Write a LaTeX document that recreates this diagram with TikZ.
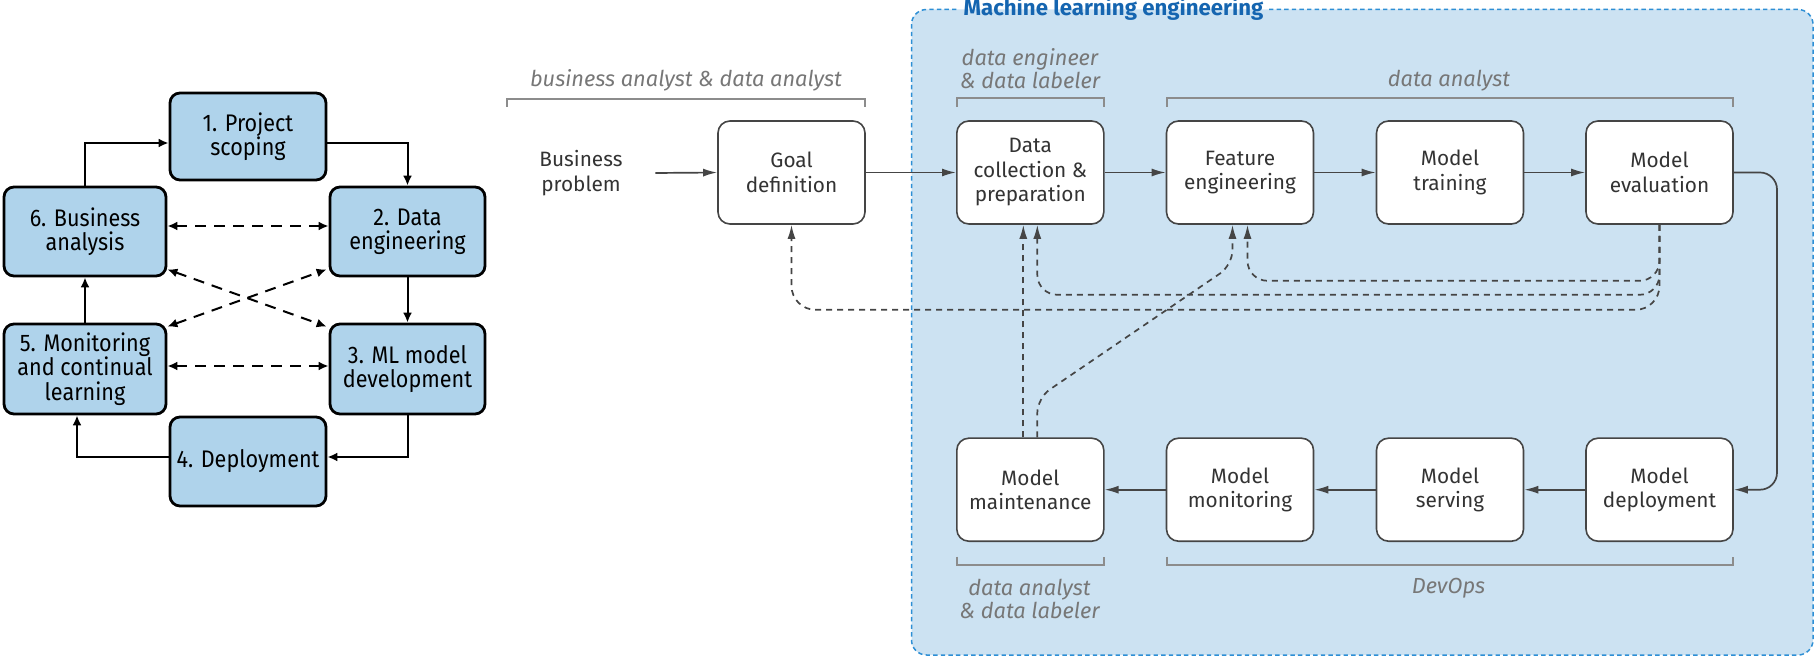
\documentclass[tikz,border=0pt]{standalone}
\usepackage{fontspec}
\setmainfont{Fira Sans}
\newfontfamily\condfont[FakeStretch=0.9]{Fira Sans}
\usetikzlibrary{arrows.meta,calc}
\definecolor{lbox}{HTML}{AFD3EB}
\definecolor{mlfill}{HTML}{CCE2F2}
\definecolor{mlborder}{HTML}{2D8FD5}
\definecolor{mltitle}{HTML}{1565B0}
\definecolor{rolegray}{HTML}{777777}
\definecolor{bracketgray}{HTML}{8C8C8C}
\definecolor{boxline}{HTML}{454545}
\definecolor{boxtext}{HTML}{333333}
\begin{document}
\begin{tikzpicture}[x=0.5pt,y=-0.5pt,
  lbox/.style={draw=black, line width=1.4pt, fill=lbox, rounded corners=5pt, align=center,
    font=\condfont\fontsize{12}{12.2}\selectfont, inner sep=0pt},
  larr/.style={draw=black, line width=1pt, -{Latex[length=5pt,width=4.5pt]}},
  ldash/.style={draw=black, line width=1pt, dash pattern=on 5.5pt off 4pt,
    {Latex[length=5pt,width=4.5pt]}-{Latex[length=5pt,width=4.5pt]}},
  rbox/.style={draw=boxline, line width=0.8pt, fill=white, rounded corners=6pt,
    minimum width=73.5pt, minimum height=51.5pt, align=center, text=boxtext,
    font=\fontsize{10.4}{12.25}\selectfont, inner sep=0pt},
  rarr/.style={draw=boxline, line width=0.85pt, -{Latex[length=7pt,width=4pt]}},
  rdash/.style={rarr, dash pattern=on 3pt off 2.5pt},
  role/.style={text=rolegray, font=\itshape\fontsize{10.9}{11.5}\selectfont, align=center},
  bracket/.style={draw=bracketgray, line width=1pt}
]
\useasboundingbox (0,0) rectangle (1815,657);

% ---------- left cycle ----------
\node[lbox, minimum width=78pt, minimum height=43.5pt] (b1) at (248,136.5) {1. Project\\scoping};
\node[lbox, minimum width=81pt, minimum height=44.5pt] (b6) at (85,231.5) {6. Business\\analysis};
\node[lbox, minimum width=77.5pt, minimum height=44.5pt] (b2) at (407.5,231.5) {2. Data\\engineering};
\node[lbox, minimum width=81pt, minimum height=45pt] (b5) at (85,369) {5. Monitoring\\and continual\\learning};
\node[lbox, minimum width=77.5pt, minimum height=45pt] (b3) at (407.5,369) {3. ML model\\development};
\node[lbox, minimum width=78pt, minimum height=44.5pt] (b4) at (248,461.5) {4. Deployment};

\draw[larr] (b6.north) |- ($(b1.west)+(0,6.5)$);
\draw[larr] ($(b1.east)+(0,6.5)$) -| (b2.north);
\draw[larr] (b2.south) -- (b3.north);
\draw[larr] (b3.south) |- ($(b4.east)+(0,-4.5)$);
\draw[larr] ($(b4.west)+(0,-4.5)$) -| ($(b5.south)+(-8,0)$);
\draw[larr] (b5.north) -- (b6.south);

\draw[ldash] ($(b6.east)+(0,-5.5)$) -- ($(b2.west)+(0,-5.5)$);
\draw[ldash] ($(b6.south east)+(0,-8)$) -- ($(b3.north west)+(-2,4)$);
\draw[ldash] ($(b5.north east)+(0,4)$) -- ($(b2.south west)+(-2,-8)$);
\draw[ldash] ($(b5.east)+(0,-3)$) -- ($(b3.west)+(0,-3)$);

% ---------- ML engineering region ----------
\fill[mlfill, rounded corners=7.5pt] (911.5,9.5) rectangle (1813,655);
\draw[mlborder, line width=0.75pt, dash pattern=on 2.2pt off 1.6pt, rounded corners=7.5pt]
  (1269,9.5) -- (1813,9.5) -- (1813,655) -- (911.5,655) -- (911.5,9.5) -- (957,9.5);
\node[anchor=base, text=mltitle, font=\bfseries\fontsize{11.1}{12}\selectfont, inner sep=0pt] (mltitle) at (1113.5,15.5) {Machine learning engineering};

% ---------- role labels ----------
\node[role, anchor=base] (r1) at (686,86.5) {business analyst \& data analyst};
\node[role] (r2) at (1030,68.5) {data engineer\\\& data labeler};
\node[role, anchor=base] (r3) at (1449,86.5) {data analyst};
\node[role] (r4) at (1029.5,599) {data analyst\\\& data labeler};
\node[role] (r5) at (1448.5,588) {DevOps};

\draw[bracket] (507,107) -- (507,99) -- (864.6,99) -- (864.6,107);
\draw[bracket] (957,107) -- (957,98.5) -- (1104,98.5) -- (1104,107);
\draw[bracket] (1166.6,107) -- (1166.6,98.5) -- (1733,98.5) -- (1733,107);
\draw[bracket] (957,556.7) -- (957,565) -- (1104,565) -- (1104,556.7);
\draw[bracket] (1166.7,556.7) -- (1166.7,565) -- (1732.6,565) -- (1732.6,556.7);

% ---------- pipeline ----------
\node[text=boxtext, font=\fontsize{10.4}{12.5}\selectfont, align=center, minimum width=74pt, inner sep=0pt] (bp) at (581,173) {Business\\problem};
\node[rbox] (goal) at (791.5,172.5) {Goal\\definition};
\node[rbox] (dc) at (1030.3,172.5) {Data\\collection \&\\preparation};
\node[rbox] (fe) at (1240,172.5) {Feature\\engineering};
\node[rbox] (mt) at (1450,172.5) {Model\\training};
\node[rbox] (me) at (1659.5,172.5) {Model\\evaluation};
\node[rbox] (mm) at (1030.3,489.7) {Model\\maintenance};
\node[rbox] (mon) at (1240,489.7) {Model\\monitoring};
\node[rbox] (ms) at (1450,489.7) {Model\\serving};
\node[rbox] (md) at (1659.5,489.7) {Model\\deployment};
\coordinate (turn) at (1777,330);

\draw[rarr] (bp.east) -- (goal.west);
\draw[rarr] (goal.east) -- (dc.west);
\draw[rarr] (dc.east) -- (fe.west);
\draw[rarr] (fe.east) -- (mt.west);
\draw[rarr] (mt.east) -- (me.west);
\draw[rarr, rounded corners=8.5pt] (me.east) -| (turn) |- (md.east);
\draw[rarr] (md.west) -- (ms.east);
\draw[rarr] (ms.west) -- (mon.east);
\draw[rarr] (mon.west) -- (mm.east);

% feedback (dashed)
\draw[rdash] ($(mm.north)+(-7,0)$) -- ($(dc.south)+(-7,0)$);
\draw[rdash, rounded corners=7.5pt] ($(mm.north)+(7,0)$) -- (1037.3,398) -- (1232.5,265) -- ($(fe.south)+(-7.5,0)$);
\draw[rdash, rounded corners=10pt] (me.south) |- ($(fe.south)+(7.5,56)$) -- ($(fe.south)+(7.5,0)$);
\draw[rdash, rounded corners=10pt] (me.south) |- ($(dc.south)+(7,70)$) -- ($(dc.south)+(7,0)$);
\draw[rdash, rounded corners=12pt] (me.south) |- ($(goal.south)+(0,85)$) -- (goal.south);
\end{tikzpicture}
\end{document}
